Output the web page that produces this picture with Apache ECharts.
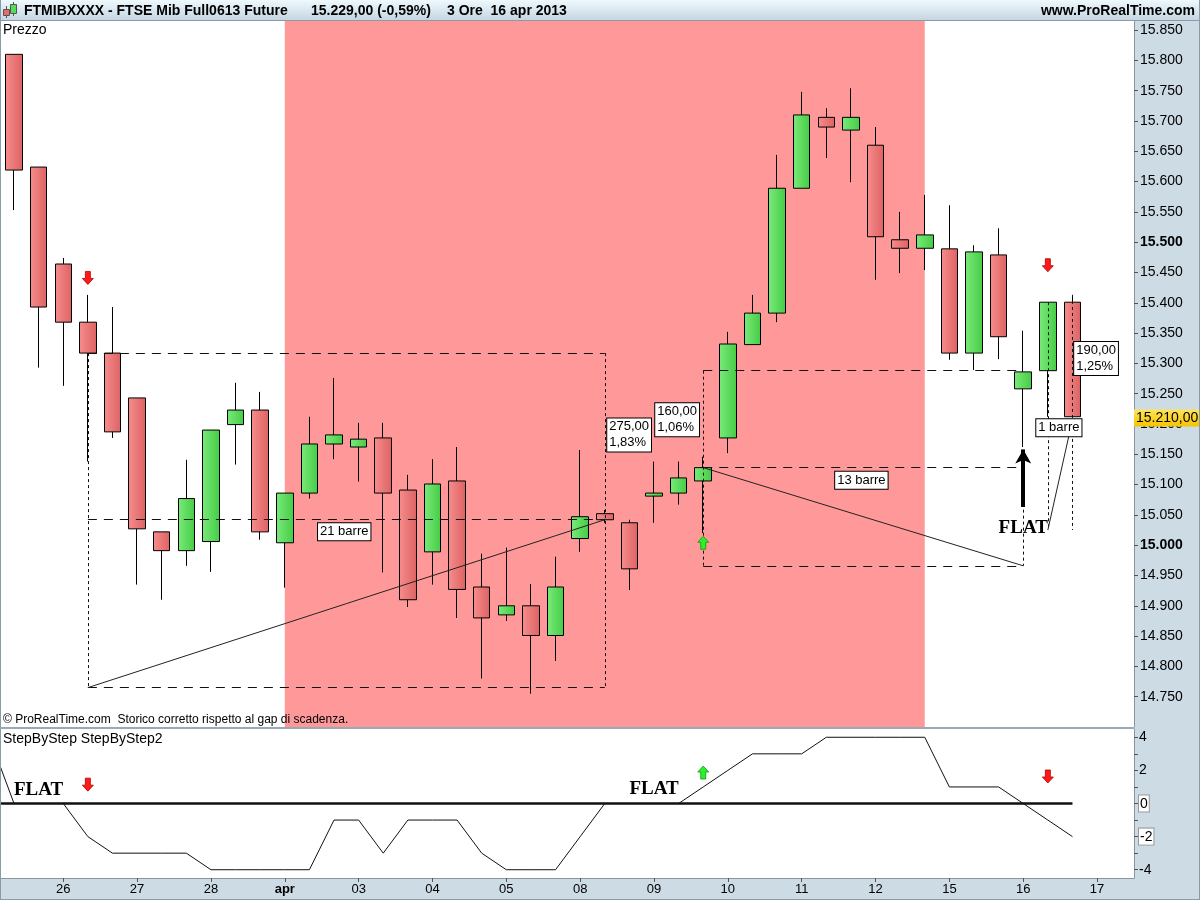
<!DOCTYPE html>
<html><head><meta charset="utf-8">
<script src="https://cdn.jsdelivr.net/npm/echarts@6/dist/echarts.min.js"></script>
<style>html,body{margin:0;padding:0;background:#fff}#c{width:1200px;height:900px}</style>
</head><body><div id="c"></div>
<script>
// ---------- DATA ----------
const days = ['25','26','27','28','apr','03','04','05','08','09','10','11','12','15','16','17'];
const sessions = ['09','12','15'];
// candles: [open, close, low, high]
const candles = [
  [15810,15619,15553,15810],[15624,15393,15293,15624],[15464,15368,15263,15474],
  [15368,15317,15138,15413],[15317,15187,15177,15393],[15243,15027,14935,15243],
  [15022,14991,14910,15022],[14991,15077,14966,15141],[15006,15190,14956,15190],
  [15199,15223,15133,15268],[15223,15022,15009,15253],[15004,15086,14930,15086],
  [15086,15167,15077,15212],[15167,15182,15142,15276],[15162,15175,15105,15202],
  [15177,15086,14955,15202],[15091,14910,14898,15116],[14989,15101,14935,15142],
  [15106,14927,14880,15162],[14931,14880,14780,14986],[14885,14900,14875,14996],
  [14900,14851,14755,14936],[14851,14931,14809,14981],[15011,15047,14989,15157],
  [15052,15042,15037,15058],[15037,14961,14926,15042],[15081,15086,15037,15138],
  [15086,15111,15067,15138],[15106,15128,15020,15146],[15177,15332,15152,15352],
  [15331,15383,15331,15413],[15383,15589,15368,15644],[15589,15710,15589,15748],
  [15706,15690,15639,15721],[15685,15706,15599,15754],[15660,15509,15438,15690],
  [15504,15490,15449,15550],[15490,15512,15454,15578],[15489,15317,15306,15561],
  [15317,15484,15289,15495],[15479,15344,15307,15523],[15258,15286,15162,15354],
  [15288,15401,15212,15401],[15401,15212,15212,15413]
];
// StepByStep values, first value = bar before the first visible candle
const stepByStep = [4,
  0,0,0,-2,-3,-3,-3,-3,-4,-4,-4,-4,-4,-1,-1,-3,-1,-1,-1,-3,-4,-4,-4,-2,
  0,0,0,0,1,2,3,3,3,4,4,4,4,4,1,1,1,0,-1,-2];
const stepByStep2 = [0,
  0,0,0,0,0,0,0,0,0,0,0,0,0,0,0,0,0,0,0,0,0,0,0,0,
  0,0,0,0,0,0,0,0,0,0,0,0,0,0,0,0,0,0,0,0];
const priceTicks = [14750,14800,14850,14900,14950,15000,15050,15100,15150,15200,15250,15300,15350,15400,15450,15500,15550,15600,15650,15700,15750,15800,15850];
const boldPriceTicks = [15000,15500];
const stepTicks = [-4,-2,0,2,4];
const stepMinorTicks = [-4,-3,-2,-1,0,1,2,3,4];
const lastPrice = 15210;
const pinkZone = [11, 37];           // candle indexes
// annotations (candle index, price)
const dashedLong = [
  [[3,15317],[24,15317]], [[3,15042],[24,15042]], [[3,14765],[24,14765]],
  [[28,15288],[41,15288]], [[28,15128],[41,15128]], [[28,14966],[41,14966]]
];
const dashedShort = [
  [[3,15317],[3,14765]], [[24,15317],[24,14765]],
  [[28,15288],[28,14966]], [[41,15128],[41,14966]],
  [[42,15401],[42,15025]], [[43,15413],[43,15025]]
];
const trendLines = [
  [[3,14765],[24,15042]], [[28,15128],[41,14966]], [[42,15025],[43,15207]]
];
const blackArrow = [[41,15063],[41,15158]];
const boxLabels = [
  {k:12.35, p:15022, lines:['21 barre']},
  {k:24.10, p:15182, lines:['275,00','1,83%']},
  {k:26.05, p:15207, lines:['160,00','1,06%']},
  {k:33.36, p:15107, lines:['13 barre']},
  {k:43.07, p:15308, lines:['190,00','1,25%']},
  {k:41.53, p:15194, lines:['1 barre']}
];
const flatMain = [[41, 15028]];
const flatStep = [[1, 0.78], [26, 0.9]];
const sellMain = [[3,15441],[42,15462]];
const buyMain = [[28,15004]];
const sellStep = [[3,1.14],[42,1.63]];
const buyStep = [[28,1.87]];

// ---------- CHART ----------
const FONT = '"Liberation Sans", Arial, sans-serif';
const SERIF = '"Liberation Serif", "Times New Roman", serif';
const categories = [];
days.forEach(d => sessions.forEach(s => categories.push(d + ' ' + s)));
categories.pop();
const isDayStart = (i, v) => v.endsWith(' 09') && !v.startsWith('25');
const fmtPrice = v => { const s = String(Math.round(v)); return s.slice(0, s.length - 3) + '.' + s.slice(-3); };

const chart = echarts.init(document.getElementById('c'), null, {renderer:'canvas', width:1200, height:900});

const redFill = new echarts.graphic.LinearGradient(0,0,1,0,[{offset:0,color:'#f78d8d'},{offset:1,color:'#dd6262'}]);
const greenFill = new echarts.graphic.LinearGradient(0,0,1,0,[{offset:0,color:'#7aea7a'},{offset:1,color:'#45cc45'}]);
const downPath = 'path://M3,0 L8,0 L8,7 L11,7 L5.5,13 L0,7 L3,7 Z';
const upPath = 'path://M5.5,0 L11,6 L8,6 L8,13 L3,13 L3,6 L0,6 Z';

const lineItem = (s, style) => [{coord: s[0], lineStyle: style}, {coord: s[1]}];
const markLines = []
  .concat(dashedLong.map(s => lineItem(s, {type:[9,7], color:'#111', width:1})))
  .concat(dashedShort.map(s => lineItem(s, {type:[3,3], color:'#111', width:1})))
  .concat(trendLines.map(s => lineItem(s, {type:'solid', color:'#222', width:1})));
markLines.push([{coord: blackArrow[0], symbol:'none', symbolSize:0, lineStyle:{color:'#000', width:4, type:'solid'}},
                {coord: blackArrow[1], symbol:'arrow', symbolSize:[12,14]}]);

const lastVals = [stepByStep[stepByStep.length-1], stepByStep2[stepByStep2.length-1]];
const hidden = {color:'rgba(0,0,0,0)', opacity:1};
const redArrow = {color:'#ff1a1a', borderColor:'#b00000', borderWidth:0.8, opacity:1};
const greenArrow = {color:'#2bf02b', borderColor:'#0a9a0a', borderWidth:0.8, opacity:1};
const flatLabel = {show:true, position:'inside', formatter:'FLAT', fontSize:19, fontWeight:'bold', fontFamily:SERIF, color:'#000', opacity:1};

const option = {
  animation: false,
  backgroundColor: '#cddbe5',
  grid: [
    {left:-22.9, right:66, top:21, height:706, show:true, backgroundColor:'#fff', borderWidth:0, outerBoundsMode:'none'},
    {left:-22.9, right:66, top:729, height:149, show:true, backgroundColor:'#fff', borderWidth:0, outerBoundsMode:'none'}
  ],
  xAxis: [
    {gridIndex:0, type:'category', data:categories, boundaryGap:true, show:false},
    {gridIndex:1, type:'category', data:categories, boundaryGap:true,
      axisLine:{show:true, onZero:false, lineStyle:{color:'#8796a1'}},
      axisTick:{show:true, interval:isDayStart, alignWithLabel:true, length:4, lineStyle:{color:'#555'}},
      axisLabel:{interval:isDayStart, margin:5, fontSize:13, color:'#000', fontFamily:FONT,
        formatter: v => { const d = v.split(' ')[0]; return d === 'apr' ? '{b|apr}' : d; },
        rich:{b:{fontWeight:'bold', fontSize:13, color:'#000', fontFamily:FONT}}},
      splitLine:{show:false}},
    {gridIndex:0, type:'value', min:-1.5, max:45.5, show:false, axisLine:{onZero:false}},
    {gridIndex:1, type:'value', min:-1.5, max:45.5, show:false, axisLine:{onZero:false}}
  ],
  yAxis: [
    {gridIndex:0, type:'value', position:'right', min:14700, max:15865, scale:true,
      axisLine:{show:true, onZero:false, lineStyle:{color:'#8796a1'}},
      axisTick:{show:true, length:4, customValues:priceTicks, lineStyle:{color:'#555'}},
      axisLabel:{customValues:priceTicks, margin:6, fontSize:14, color:'#000', fontFamily:FONT,
        formatter: v => boldPriceTicks.includes(v) ? '{b|' + fmtPrice(v) + '}' : fmtPrice(v),
        rich:{b:{fontWeight:'bold', fontSize:14, color:'#000', fontFamily:FONT}}},
      splitLine:{show:false}},
    {gridIndex:1, type:'value', position:'right', min:-4.5, max:4.5,
      axisLine:{show:true, onZero:false, lineStyle:{color:'#8796a1'}},
      axisTick:{show:true, length:4, customValues:stepMinorTicks, lineStyle:{color:'#555'}},
      axisLabel:{customValues:stepTicks, margin:5, fontSize:14, color:'#000', fontFamily:FONT,
        formatter: v => lastVals.includes(v) ? '{box|' + v + '}' : String(v),
        rich:{box:{backgroundColor:'#fff', borderColor:'#999', borderWidth:1, padding:[2,1,0,1], fontSize:14, color:'#000', fontFamily:FONT}}},
      splitLine:{show:false}}
  ],
  series: [
    {type:'candlestick', xAxisIndex:0, yAxisIndex:0, barWidth:17, silent:true,
      data: [['-','-','-','-']].concat(candles),
      itemStyle:{color:greenFill, color0:redFill, borderColor:'#000', borderColor0:'#000', borderColorDoji:'#000', borderWidth:1},
      markArea:{silent:true, itemStyle:{color:'#ff9999', opacity:1},
        data:[[{xAxis: pinkZone[0] + 1}, {xAxis: pinkZone[1] + 1}]]},
      markLine:{silent:true, symbol:'none', animation:false,
        lineStyle:{color:'rgba(0,0,0,0)', width:0},
        label:{show:true, position:'end', distance:0, formatter: () => fmtPrice(lastPrice) + ',00',
          backgroundColor: new echarts.graphic.LinearGradient(0,0,0,1,[{offset:0,color:'#ffe45c'},{offset:1,color:'#f5c400'}]),
          color:'#000', fontSize:14, fontFamily:FONT, padding:[2,2,1,2], opacity:1},
        data:[{yAxis:lastPrice}]}
    },
    {type:'scatter', xAxisIndex:2, yAxisIndex:0, silent:true, z:6,
      symbol:downPath, symbolSize:[11,13], itemStyle:redArrow,
      data: sellMain,
      markLine:{silent:true, symbol:'none', animation:false, label:{show:false}, data: markLines}
    },
    {type:'scatter', xAxisIndex:2, yAxisIndex:0, silent:true, z:6,
      symbol:upPath, symbolSize:[11,13], itemStyle:greenArrow, data: buyMain},
    {type:'scatter', xAxisIndex:2, yAxisIndex:0, silent:true, z:7,
      symbolSize:1, itemStyle:hidden,
      data: boxLabels.map(b => ({value:[b.k, b.p], lines:b.lines})),
      label:{show:true, position:'inside', align:'left', verticalAlign:'middle', opacity:1,
        formatter: p => p.data.lines.join('\n'),
        backgroundColor:'#fff', borderColor:'#000', borderWidth:1, padding:[1,2,0,2],
        fontSize:13, lineHeight:16, color:'#000', fontFamily:FONT}},
    {type:'scatter', xAxisIndex:2, yAxisIndex:0, silent:true, z:7,
      symbolSize:1, itemStyle:hidden, data: flatMain, label:flatLabel},
    // lower panel
    {type:'line', xAxisIndex:1, yAxisIndex:1, data: stepByStep2, symbol:'none', silent:true,
      lineStyle:{color:'#111', width:2.5}},
    {type:'line', xAxisIndex:1, yAxisIndex:1, data: stepByStep, symbol:'none', silent:true,
      lineStyle:{color:'#111', width:1}},
    {type:'scatter', xAxisIndex:3, yAxisIndex:1, silent:true, z:6,
      symbol:downPath, symbolSize:[11,13], itemStyle:redArrow, data: sellStep},
    {type:'scatter', xAxisIndex:3, yAxisIndex:1, silent:true, z:6,
      symbol:upPath, symbolSize:[11,13], itemStyle:greenArrow, data: buyStep},
    {type:'scatter', xAxisIndex:3, yAxisIndex:1, silent:true, z:7,
      symbolSize:1, itemStyle:hidden, data: flatStep, label:flatLabel}
  ],
  graphic: [
    {type:'rect', z:100, shape:{x:0, y:0, width:1200, height:20},
      style:{fill:new echarts.graphic.LinearGradient(0,0,0,1,[{offset:0,color:'#eef9fd'},{offset:1,color:'#c5d6e2'}])}},
    {type:'line', z:101, shape:{x1:0, y1:20.5, x2:1200, y2:20.5}, style:{stroke:'#8a9aa6', lineWidth:1}},
    {type:'line', z:101, shape:{x1:0.5, y1:0, x2:0.5, y2:900}, style:{stroke:'#8a9aa6', lineWidth:1}},
    {type:'line', z:101, shape:{x1:1199.5, y1:0, x2:1199.5, y2:900}, style:{stroke:'#8a9aa6', lineWidth:1}},
    {type:'rect', z:101, shape:{x:0, y:727, width:1134, height:2}, style:{fill:'#9aa9b4'}},
    {type:'line', z:101, shape:{x1:0, y1:899.5, x2:1200, y2:899.5}, style:{stroke:'#8a9aa6', lineWidth:1}},
    // header icon
    {type:'line', z:102, shape:{x1:6.5, y1:6, x2:6.5, y2:18}, style:{stroke:'#555', lineWidth:1}},
    {type:'rect', z:102, shape:{x:3.5, y:9.5, width:6, height:6}, style:{fill:'#e86a6a', stroke:'#555', lineWidth:1}},
    {type:'line', z:102, shape:{x1:13.5, y1:2, x2:13.5, y2:16}, style:{stroke:'#555', lineWidth:1}},
    {type:'rect', z:102, shape:{x:10.5, y:4.5, width:6, height:9}, style:{fill:'#55dd55', stroke:'#555', lineWidth:1}},
    {type:'text', z:102, style:{text:'FTMIBXXXX - FTSE Mib Full0613 Future', x:24, y:11, font:'bold 14px ' + FONT, fill:'#000', textVerticalAlign:'middle'}},
    {type:'text', z:102, style:{text:'15.229,00 (-0,59%)', x:311, y:11, font:'bold 14px ' + FONT, fill:'#000', textVerticalAlign:'middle'}},
    {type:'text', z:102, style:{text:'3 Ore  16 apr 2013', x:447, y:11, font:'bold 14px ' + FONT, fill:'#000', textVerticalAlign:'middle'}},
    {type:'text', z:102, style:{text:'www.ProRealTime.com', x:1195, y:11, font:'bold 14px ' + FONT, fill:'#000', textAlign:'right', textVerticalAlign:'middle'}},
    {type:'text', z:102, style:{text:'Prezzo', x:3, y:30, font:'14px ' + FONT, fill:'#000', textVerticalAlign:'middle'}},
    {type:'text', z:102, style:{text:'© ProRealTime.com  Storico corretto rispetto al gap di scadenza.', x:3, y:720, font:'12px ' + FONT, fill:'#000', textVerticalAlign:'middle'}},
    {type:'text', z:102, style:{text:'StepByStep StepByStep2', x:3, y:739, font:'14px ' + FONT, fill:'#000', textVerticalAlign:'middle'}}
  ]
};
chart.setOption(option);
</script>
</body></html>
